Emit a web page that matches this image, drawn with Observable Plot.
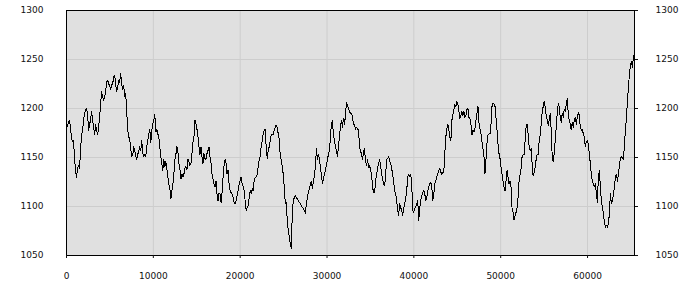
<!DOCTYPE html>
<html>
<head>
<meta charset="utf-8">
<script src="https://cdn.jsdelivr.net/npm/d3@7"></script>
<script src="https://cdn.jsdelivr.net/npm/@observablehq/plot@0.6"></script>
<style>
  html, body { margin: 0; padding: 0; background: #ffffff; }
  #chart { width: 700px; height: 300px; }
</style>
</head>
<body>
<div id="chart"></div>
<script>
// sampling interval (x units between consecutive readings)
const step = 115.56;
const xTicks = [0, 10000, 20000, 30000, 40000, 50000, 60000];
const yTicks = [1050, 1100, 1150, 1200, 1250, 1300];
const xDomain = [0, 65408];
const yDomain = [1050, 1300];

const values = [
  // 0 .. ~7900
  1186,1182,1187,1188,1181,1169,1166,1167,1149,1137,1130,1139,1142,1139,1157,1173,1178,1188,1195,1199,1200,1195,1178,1184,1188,1197,1188,1181,1173,1184,1178,1173,1181,1191,1204,1217,1212,1208,1212,1217,1227,1229,1225,1224,1219,1224,1225,1232,1234,1225,1217,1222,1229,1227,1236,1225,1219,1224,1212,1215,1197,1178,1171,1169,1159,1151,1152,1161,
  // ~7900 .. ~16200
  1157,1151,1148,1153,1157,1161,1157,1167,1154,1151,1153,1151,1161,1167,1174,1179,1165,1178,1184,1188,1194,1176,1179,1174,1171,1161,1151,1144,1137,1148,1141,1146,1139,1130,1123,1118,1108,1116,1123,1133,1148,1153,1161,1156,1144,1139,1128,1133,1130,1133,1139,1141,1137,1148,1146,1142,1144,1154,1165,1171,1188,1184,1179,1171,1161,1153,1161,1151,1144,1154,1149,1148,
  // ~16200 .. ~24500
  1154,1157,1161,1151,1144,1133,1128,1123,1120,1126,1113,1106,1114,1113,1104,1114,1130,1142,1148,1144,1133,1137,1123,1116,1114,1113,1109,1104,1103,1106,1111,1116,1123,1126,1130,1123,1121,1116,1106,1096,1099,1101,1109,1116,1113,1118,1116,1126,1130,1130,1133,1140,1148,1151,1161,1167,1174,1178,1179,1161,1149,1157,1161,1167,1173,1174,1173,1178,1181,1183,1181,1174,
  // ~24500 .. ~32800
  1169,1151,1148,1140,1133,1120,1103,1104,1086,1075,1069,1062,1057,1093,1106,1109,1111,1109,1108,1106,1104,1103,1101,1099,1098,1096,1093,1103,1109,1114,1118,1123,1126,1118,1126,1131,1140,1159,1148,1153,1149,1140,1133,1123,1128,1133,1137,1142,1148,1153,1157,1171,1184,1188,1173,1167,1161,1157,1151,1161,1171,1181,1188,1181,1190,1184,1193,1206,1204,1200,1197,1195,
  // ~32800 .. ~41100
  1195,1191,1184,1183,1179,1181,1179,1179,1161,1157,1153,1148,1156,1159,1146,1142,1148,1140,1142,1137,1133,1120,1114,1114,1126,1133,1139,1144,1148,1142,1133,1128,1123,1121,1131,1148,1149,1151,1146,1144,1139,1133,1126,1116,1113,1106,1096,1091,1103,1099,1096,1091,1098,1103,1108,1116,1130,1133,1131,1133,1123,1096,1094,1098,1099,1103,1106,1086,1099,1106,1111,1114,
  // ~41100 .. ~49400
  1116,1113,1106,1109,1116,1120,1123,1125,1120,1106,1113,1123,1126,1131,1133,1137,1139,1135,1133,1135,1135,1154,1171,1179,1184,1178,1171,1167,1188,1193,1199,1204,1202,1207,1204,1197,1190,1193,1197,1193,1197,1191,1193,1199,1200,1191,1190,1184,1173,1178,1176,1179,1188,1195,1202,1186,1179,1174,1166,1159,1151,1133,1148,1164,1173,1174,1174,1184,1202,1205,1205,1202,
  // ~49400 .. ~57700
  1190,1178,1164,1154,1149,1140,1133,1126,1120,1116,1126,1137,1130,1123,1126,1120,1098,1094,1086,1091,1094,1099,1109,1126,1133,1139,1151,1153,1153,1167,1182,1184,1174,1161,1157,1159,1144,1131,1135,1140,1148,1153,1153,1167,1173,1184,1196,1202,1207,1202,1193,1188,1183,1188,1195,1178,1151,1146,1154,1167,1181,1195,1205,1202,1191,1186,1195,1191,1199,1197,1204,1210,
  // ~57700 .. end
  1195,1188,1184,1178,1186,1181,1188,1191,1184,1191,1196,1193,1181,1178,1179,1174,1171,1161,1166,1167,1164,1153,1144,1133,1126,1123,1120,1123,1113,1104,1130,1137,1120,1106,1099,1093,1084,1079,1081,1079,1082,1093,1113,1103,1106,1113,1120,1130,1133,1126,1133,1142,1149,1151,1149,1148,1164,1178,1191,1208,1222,1236,1244,1248,1242,1254,1249
];

const data = values.map((v, i) => ({x: i * step, y: v}));

const font = "DejaVu Sans, Verdana, sans-serif";

const chart = Plot.plot({
  width: 700,
  height: 300,
  marginLeft: 66,
  marginRight: 66,
  marginTop: 10,
  marginBottom: 45,
  style: {background: "#ffffff", fontFamily: font, fontSize: "9px", color: "#111"},
  x: {domain: xDomain, label: null},
  y: {domain: yDomain, label: null},
  marks: [
    Plot.frame({fill: "#e0e0e0", stroke: null}),
    Plot.gridX(xTicks, {stroke: "#cdcdcd", strokeOpacity: 1, strokeWidth: 1}),
    Plot.gridY(yTicks, {stroke: "#cdcdcd", strokeOpacity: 1, strokeWidth: 1}),
    Plot.line(data, {x: "x", y: "y", stroke: "#000", strokeWidth: 1, shapeRendering: "crispEdges"}),
    Plot.frame({stroke: "#000", strokeWidth: 1}),
    Plot.axisX(xTicks, {anchor: "bottom", tickSize: 3, tickPadding: 14, label: null, tickFormat: d => String(d)}),
    Plot.axisY(yTicks, {anchor: "left", tickSize: 0, tickPadding: 23, label: null, tickFormat: d => String(d)}),
    Plot.axisY(yTicks, {anchor: "right", tickSize: 3, tickPadding: 18, label: null, tickFormat: d => String(d)})
  ]
});

document.getElementById("chart").appendChild(chart);
</script>
</body>
</html>
